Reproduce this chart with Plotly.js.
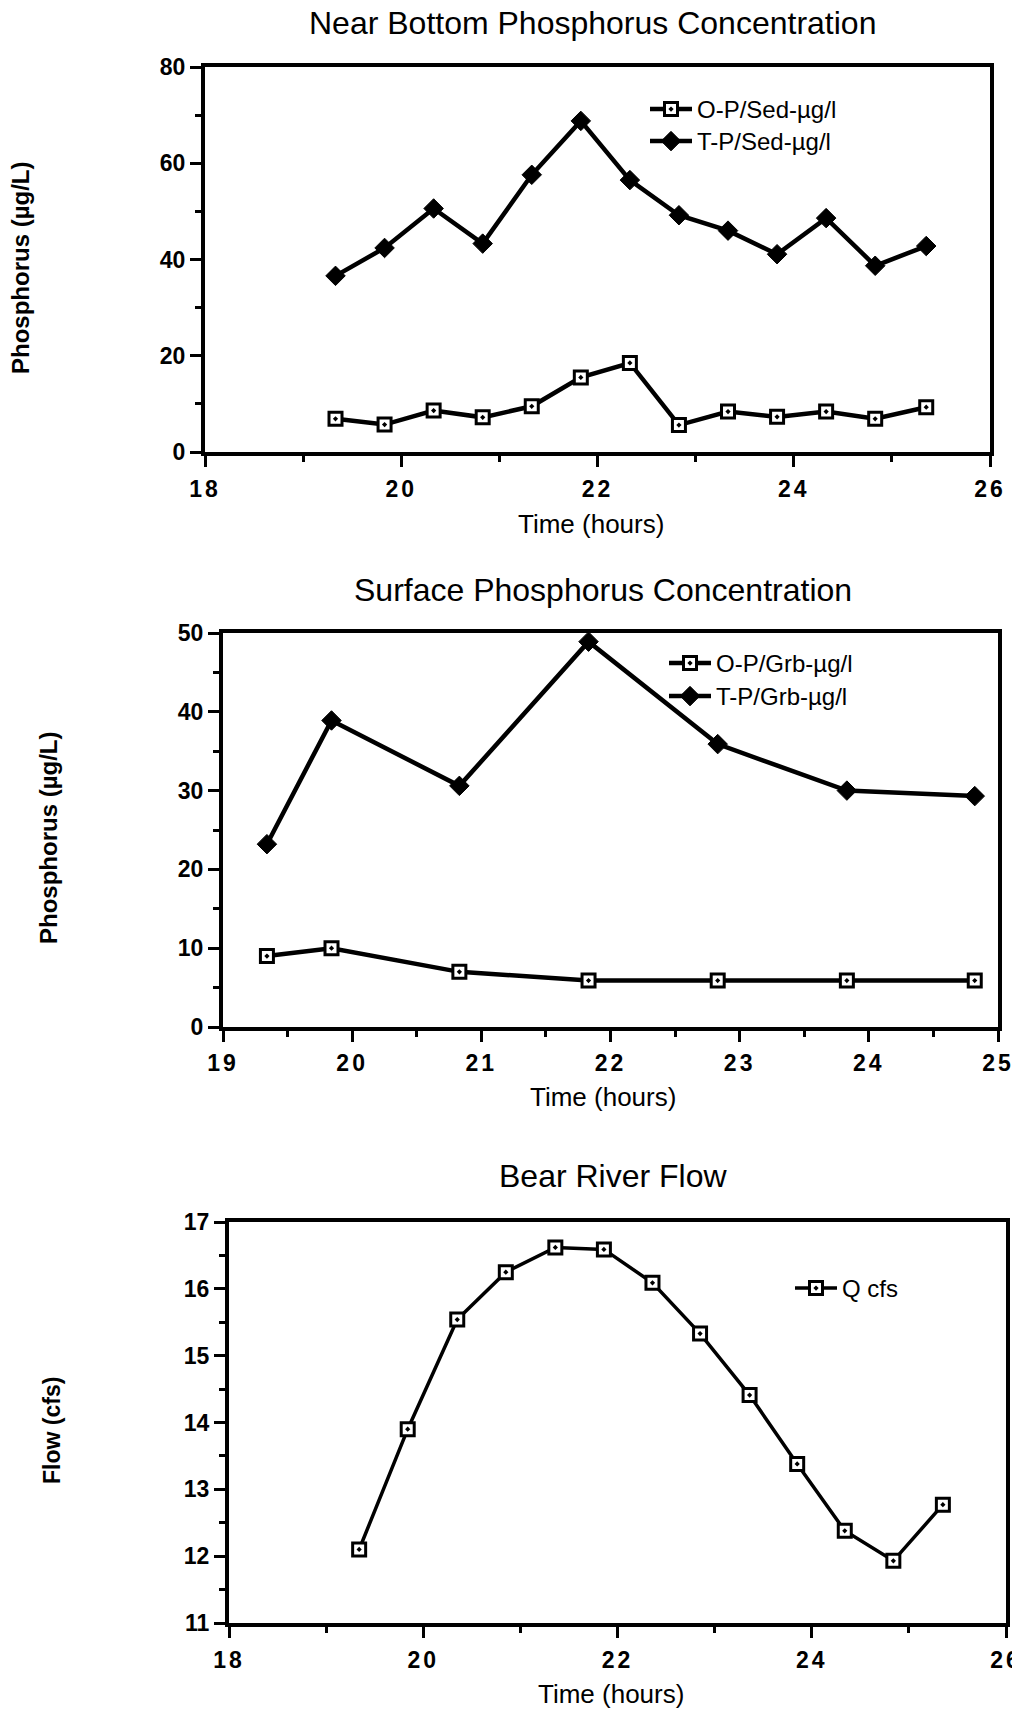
<!DOCTYPE html>
<html>
<head>
<meta charset="utf-8">
<script src="https://cdn.plot.ly/plotly-3.0.1.min.js"></script>
<style>
  html, body { margin: 0; padding: 0; background: #fff; }
  #chart { width: 1012px; height: 1712px; }
  .xtick text, .x2tick text, .x3tick text { letter-spacing: 3px; }
</style>
</head>
<body>
<div id="chart"></div>
<script>
// ---- Data ----
const timeBottom = [19.33, 19.83, 20.33, 20.83, 21.33, 21.83, 22.33, 22.83, 23.33, 23.83, 24.33, 24.83, 25.35];
const opSed = [6.9, 5.7, 8.6, 7.2, 9.5, 15.5, 18.5, 5.6, 8.4, 7.3, 8.4, 6.9, 9.3];
const tpSed = [36.6, 42.4, 50.6, 43.3, 57.6, 68.8, 56.5, 49.2, 46.0, 41.1, 48.6, 38.7, 42.8];

const timeSurface = [19.34, 19.84, 20.83, 21.83, 22.83, 23.83, 24.82];
const opGrb = [9.0, 10.0, 7.0, 5.9, 5.9, 5.9, 5.9];
const tpGrb = [23.2, 38.9, 30.6, 48.9, 35.9, 30.0, 29.3];

const timeFlow = [19.34, 19.84, 20.35, 20.85, 21.36, 21.86, 22.36, 22.85, 23.36, 23.85, 24.34, 24.84, 25.35];
const qCfs = [12.10, 13.90, 15.54, 16.25, 16.62, 16.59, 16.09, 15.33, 14.41, 13.38, 12.38, 11.93, 12.77];

const seriesNames = ['O-P/Sed-µg/l', 'T-P/Sed-µg/l', 'O-P/Grb-µg/l', 'T-P/Grb-µg/l', 'Q cfs'];
const chartTitles = ['Near Bottom Phosphorus Concentration', 'Surface Phosphorus Concentration', 'Bear River Flow'];
const xTitle = 'Time (hours)';
const yTitles = ['Phosphorus (µg/L)', 'Phosphorus (µg/L)', 'Flow (cfs)'];

// ---- Styling ----
const FONT = 'Liberation Sans, Arial, Helvetica, sans-serif';
const W = 1012, H = 1712;
const px = v => v / W;
const py = v => 1 - v / H;

const squareMarker = { symbol: 'square-dot', size: 13, color: '#fff', line: { color: '#000', width: 3 } };
const diamondMarker = { symbol: 'diamond', size: 15, color: '#000', line: { color: '#000', width: 1 } };

const traces = [
  { x: timeBottom, y: opSed, name: seriesNames[0], xaxis: 'x', yaxis: 'y', legend: 'legend',
    mode: 'lines+markers', line: { color: '#000', width: 4.5 }, marker: squareMarker, cliponaxis: false },
  { x: timeBottom, y: tpSed, name: seriesNames[1], xaxis: 'x', yaxis: 'y', legend: 'legend4',
    mode: 'lines+markers', line: { color: '#000', width: 4.5 }, marker: diamondMarker, cliponaxis: false },
  { x: timeSurface, y: opGrb, name: seriesNames[2], xaxis: 'x2', yaxis: 'y2', legend: 'legend2',
    mode: 'lines+markers', line: { color: '#000', width: 4.5 }, marker: squareMarker, cliponaxis: false },
  { x: timeSurface, y: tpGrb, name: seriesNames[3], xaxis: 'x2', yaxis: 'y2', legend: 'legend5',
    mode: 'lines+markers', line: { color: '#000', width: 4.5 }, marker: diamondMarker, cliponaxis: false },
  { x: timeFlow, y: qCfs, name: seriesNames[4], xaxis: 'x3', yaxis: 'y3', legend: 'legend3',
    mode: 'lines+markers', line: { color: '#000', width: 3.5 }, marker: squareMarker, cliponaxis: false }
];

function axis(extra) {
  return Object.assign({
    showline: true, linewidth: 4, linecolor: '#000', mirror: true,
    showgrid: false, zeroline: false,
    ticks: 'outside', ticklen: 11, tickwidth: 3, tickcolor: '#000',
    tickfont: { family: FONT, size: 23, weight: 'bold', color: '#000' },
    fixedrange: true
  }, extra);
}
function minor(d, len) {
  return { dtick: d, ticks: 'outside', ticklen: len, tickwidth: 3, tickcolor: '#000', showgrid: false };
}

function legendAt(x, y) {
  return {
    x: px(x), y: py(y), xanchor: 'left', yanchor: 'top',
    bgcolor: 'rgba(0,0,0,0)', borderwidth: 0, itemwidth: 42,
    font: { family: FONT, size: 24, color: '#000' }, tracegroupgap: 0
  };
}

function ann(text, x, y, size, opts) {
  return Object.assign({
    text: text, x: px(x), y: py(y), xref: 'paper', yref: 'paper',
    xanchor: 'center', yanchor: 'middle', showarrow: false,
    font: { family: FONT, size: size, color: '#000' }
  }, opts || {});
}
const yTitleFont = s => ({ textangle: -90, font: { family: FONT, size: s, weight: 'bold', color: '#000' } });

const layout = {
  width: W, height: H,
  margin: { l: 0, r: 0, t: 0, b: 0 },
  paper_bgcolor: '#fff', plot_bgcolor: '#fff',
  showlegend: true,
  xaxis: axis({ domain: [px(205), px(990)], anchor: 'y', range: [18, 26], tick0: 18, dtick: 2, minor: minor(1, 6), ticklabelstandoff: 2 }),
  yaxis: axis({ domain: [py(452), py(67)], anchor: 'x', range: [0, 80], tick0: 0, dtick: 20, minor: minor(10, 6), ticklabelstandoff: 0 }),
  xaxis2: axis({ domain: [px(223), px(998)], anchor: 'y2', range: [19, 25], tick0: 19, dtick: 1, minor: minor(0.5, 6), ticklabelstandoff: 1, ticklabeloverflow: 'allow' }),
  yaxis2: axis({ domain: [py(1027), py(633)], anchor: 'x2', range: [0, 50], tick0: 0, dtick: 10, minor: minor(5, 6), ticklabelstandoff: 0 }),
  xaxis3: axis({ domain: [px(229), px(1006)], anchor: 'y3', range: [18, 26], tick0: 18, dtick: 2, minor: minor(1, 6), ticklabelstandoff: 2, ticklabeloverflow: 'allow' }),
  yaxis3: axis({ domain: [py(1623), py(1222)], anchor: 'x3', range: [11, 17], tick0: 11, dtick: 1, minor: minor(0.5, 6), ticklabelstandoff: 0 }),
  legend: legendAt(645, 87),
  legend4: legendAt(645, 119),
  legend2: legendAt(664, 641),
  legend5: legendAt(664, 674),
  legend3: legendAt(790, 1266),
  annotations: [
    ann(chartTitles[0], 592, 23, 32),
    ann(chartTitles[1], 603, 590, 32),
    ann(chartTitles[2], 613, 1176, 32),
    ann(xTitle, 591, 524, 26),
    ann(xTitle, 603, 1097, 26),
    ann(xTitle, 611, 1694, 26),
    ann(yTitles[0], 20, 268, 24, yTitleFont(24)),
    ann(yTitles[1], 49, 838, 24, yTitleFont(24)),
    ann(yTitles[2], 52, 1431, 23, yTitleFont(23))
  ]
};

Plotly.newPlot('chart', traces, layout, { displayModeBar: false, staticPlot: true });
</script>
</body>
</html>
